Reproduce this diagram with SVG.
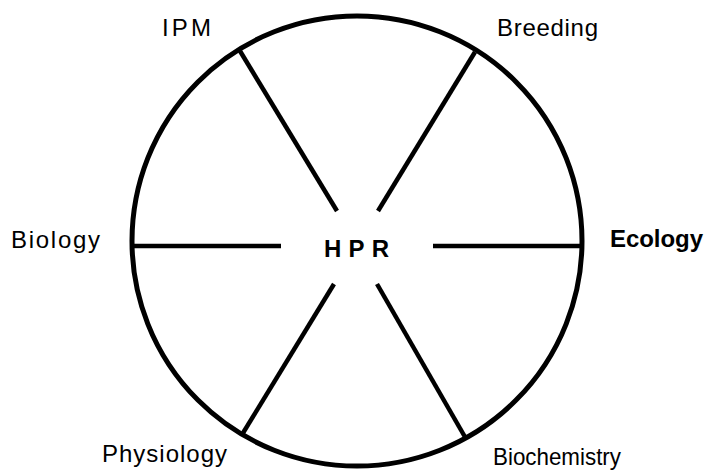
<svg xmlns="http://www.w3.org/2000/svg" width="706" height="470" viewBox="0 0 706 470">
<style>
.lbl{font-family:"Liberation Sans",Arial,sans-serif;font-size:24px;fill:#000}
.b{font-weight:bold}
.ln{stroke:#000;stroke-width:4.5;fill:none;stroke-linecap:butt}
</style>
<rect width="706" height="470" fill="#fff"/>
<g id="connectors">
<line class="ln" x1="240" y1="51" x2="337" y2="211"/>
<line class="ln" x1="475" y1="52" x2="378" y2="211"/>
<line class="ln" x1="132" y1="246" x2="281" y2="246"/>
<line class="ln" x1="433" y1="246" x2="582" y2="246"/>
<line class="ln" x1="334" y1="284" x2="243" y2="433"/>
<line class="ln" x1="377" y1="284" x2="465" y2="437"/>
</g>
<g id="circle"><circle cx="357" cy="241" r="225" fill="none" stroke="#000" stroke-width="5"/></g>
<g id="hpr"><text class="lbl b" x="324" y="257" textLength="65" lengthAdjust="spacing">HPR</text></g>
<g id="ipm"><text class="lbl" x="162" y="36" textLength="49" lengthAdjust="spacing">IPM</text></g>
<g id="breeding"><text class="lbl" x="497" y="36" textLength="101" lengthAdjust="spacing">Breeding</text></g>
<g id="biology"><text class="lbl" x="11" y="248" textLength="89" lengthAdjust="spacing">Biology</text></g>
<g id="ecology"><text class="lbl b" x="610" y="247" textLength="93" lengthAdjust="spacing">Ecology</text></g>
<g id="physiology"><text class="lbl" x="102" y="462" textLength="125" lengthAdjust="spacing">Physiology</text></g>
<g id="biochemistry"><text class="lbl" x="493" y="465" textLength="128" lengthAdjust="spacingAndGlyphs">Biochemistry</text></g>
</svg>
